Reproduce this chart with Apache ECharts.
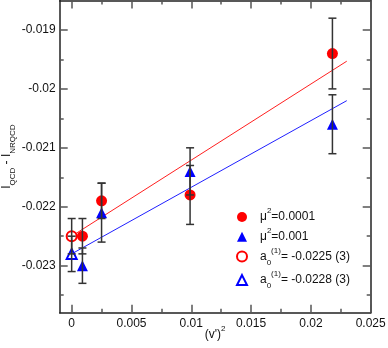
<!DOCTYPE html>
<html>
<head>
<meta charset="utf-8">
<script src="https://cdn.jsdelivr.net/npm/echarts@6/dist/echarts.min.js"></script>
<style>
  html, body { margin: 0; padding: 0; background: #fff; }
  #chart { width: 388px; height: 348px; }
</style>
</head>
<body>
<div id="chart"></div>
<script>
// data
const xVals = [0.0009, 0.0025, 0.0099, 0.0218];
const redVals = [-0.0225, -0.0219, -0.0218, -0.0194];
const redErr = [0.0003, 0.0003, 0.0005, 0.0006];
const blueVals = [-0.0230, -0.0221, -0.0214, -0.0206];
const blueErr = [0.0003, 0.0005, 0.0004, 0.0005];
const extrapX = [0];
const redExtrap = [-0.0225], redExtrapErr = [0.0003];
const blueExtrap = [-0.0228], blueExtrapErr = [0.0003];
const fitX = [0, 0.023];
const redFit = [-0.0225, -0.01953];
const blueFit = [-0.0228, -0.0202];

const xMajor = [0, 0.005, 0.01, 0.015, 0.02, 0.025];
const xMinor = [0.0025, 0.0075, 0.0125, 0.0175, 0.0225];
const yMajor = [-0.023, -0.022, -0.021, -0.02, -0.019];
const yMinor = [-0.0235, -0.0225, -0.0215, -0.0205, -0.0195];

const seriesNames = ['mu1', 'mu2', 'a1', 'a2'];
const legendLabels = {
    mu1: '{b|μ}{sup|2}{b|=0.0001}',
    mu2: '{b|μ}{sup|2}{b|=0.001}',
    a1: '{b|a}{sub|0}{sup|(1)}{b|= -0.0225 (3)}',
    a2: '{b|a}{sub|0}{sup|(1)}{b|= -0.0228 (3)}'
};

const FONT = 'Liberation Sans, Arial, Helvetica, sans-serif';
const richText = {
    b: { fontSize: 12, lineHeight: 20, fontFamily: FONT, color: '#111' },
    sup: { fontSize: 8, lineHeight: 8, verticalAlign: 'top', fontFamily: FONT, color: '#111' },
    sub: { fontSize: 8, lineHeight: 10, verticalAlign: 'bottom', fontFamily: FONT, color: '#111' }
};

const pts = (xs, ys) => xs.map((x, i) => [x, ys[i]]);
const errPts = (xs, ys, es) => xs.map((x, i) => [x, ys[i] - es[i], ys[i] + es[i]]);
const fmt = v => String(parseFloat(Number(v).toPrecision(6)));

function renderErr(params, api) {
    const x = api.value(0);
    const lo = api.coord([x, api.value(1)]);
    const hi = api.coord([x, api.value(2)]);
    const w = 4;
    const style = { stroke: '#333', lineWidth: 1.5 };
    return {
        type: 'group',
        children: [
            { type: 'line', shape: { x1: lo[0], y1: lo[1], x2: hi[0], y2: hi[1] }, style: style },
            { type: 'line', shape: { x1: lo[0] - w, y1: lo[1], x2: lo[0] + w, y2: lo[1] }, style: style },
            { type: 'line', shape: { x1: hi[0] - w, y1: hi[1], x2: hi[0] + w, y2: hi[1] }, style: style }
        ]
    };
}

const X_MIN = -0.001, X_MAX = 0.025;
const Y_MIN = -0.0238, Y_MAX = -0.0185;
const lineStyle = { color: '#222', width: 1.5 };

function xAx(pos, vals, len, main) {
    return {
        type: 'value', min: X_MIN, max: X_MAX, position: pos,
        axisLine: { show: main, onZero: false, lineStyle: lineStyle },
        axisTick: { show: true, inside: true, length: len, customValues: vals, lineStyle: { color: '#555', width: 1.5 } },
        axisLabel: (main && pos === 'bottom') ? { customValues: vals, formatter: fmt, margin: 5, fontSize: 12, fontFamily: FONT, color: '#111' } : { show: false },
        splitLine: { show: false }
    };
}
function yAx(pos, vals, len, main) {
    return {
        type: 'value', min: Y_MIN, max: Y_MAX, position: pos,
        axisLine: { show: main, onZero: false, lineStyle: lineStyle },
        axisTick: { show: true, inside: true, length: len, customValues: vals, lineStyle: { color: '#555', width: 1.5 } },
        axisLabel: (main && pos === 'left') ? { customValues: vals, formatter: fmt, margin: 4, fontSize: 12, fontFamily: FONT, color: '#111' } : { show: false },
        splitLine: { show: false }
    };
}

const xAxes = [
    xAx('bottom', xMajor, 8, true),
    xAx('bottom', xMinor, 4, false),
    xAx('top', xMajor, 8, true),
    xAx('top', xMinor, 4, false)
];
xAxes[0].name = "{b|(v')}{sup|2}";
xAxes[0].nameLocation = 'middle';
xAxes[0].nameGap = 12;
xAxes[0].nameMoveOverlap = false;
xAxes[0].nameTextStyle = { rich: richText };

const yAxes = [
    yAx('left', yMajor, 8, true),
    yAx('left', yMinor, 4, false),
    yAx('right', yMajor, 8, true),
    yAx('right', yMinor, 4, false)
];
yAxes[0].name = '{b|I}{sub|QCD}{b| - I}{sub|NRQCD}';
yAxes[0].nameLocation = 'middle';
yAxes[0].nameGap = 43;
yAxes[0].nameMoveOverlap = false;
yAxes[0].nameTextStyle = { rich: richText };

const chart = echarts.init(document.getElementById('chart'));
chart.setOption({
    animation: false,
    backgroundColor: '#fff',
    grid: { left: 59.7, right: 17.3, top: 0.5, bottom: 35.2, containLabel: false, outerBoundsMode: 'none' },
    xAxis: xAxes,
    yAxis: yAxes,
    legend: {
        orient: 'vertical',
        left: 231,
        top: 202,
        itemWidth: 10,
        itemHeight: 10,
        itemGap: 3.7,
        data: seriesNames,
        formatter: name => legendLabels[name],
        textStyle: { padding: [0, 0, 0, 8], rich: richText }
    },
    series: [
        {
            type: 'line', data: pts(fitX, redFit), symbol: 'none', z: 1,
            lineStyle: { color: '#ff2020', width: 1 }, silent: true
        },
        {
            type: 'line', data: pts(fitX, blueFit), symbol: 'none', z: 1,
            lineStyle: { color: '#2020ff', width: 1 }, silent: true
        },
        {
            name: 'mu1', type: 'scatter', data: pts(xVals, redVals), z: 3,
            symbol: 'circle', symbolSize: 11, itemStyle: { color: '#ff0000', opacity: 1 }
        },
        {
            name: 'mu2', type: 'scatter', data: pts(xVals, blueVals), z: 3,
            symbol: 'triangle', symbolSize: 11, itemStyle: { color: '#0000ff', opacity: 1 }
        },
        {
            name: 'a1', type: 'scatter', data: pts(extrapX, redExtrap), z: 3,
            symbol: 'emptyCircle', symbolSize: 10, itemStyle: { color: '#ff0000', borderWidth: 1.5, opacity: 1 }
        },
        {
            name: 'a2', type: 'scatter', data: pts(extrapX, blueExtrap), z: 3,
            symbol: 'emptyTriangle', symbolSize: 10, itemStyle: { color: '#0000ff', borderWidth: 1.5, opacity: 1 }
        },
        {
            type: 'custom', renderItem: renderErr, z: 4, silent: true,
            encode: { x: 0, y: [1, 2] },
            data: errPts(xVals, redVals, redErr)
                .concat(errPts(xVals, blueVals, blueErr))
                .concat(errPts(extrapX, redExtrap, redExtrapErr))
                .concat(errPts(extrapX, blueExtrap, blueExtrapErr))
        }
    ]
});
</script>
</body>
</html>
